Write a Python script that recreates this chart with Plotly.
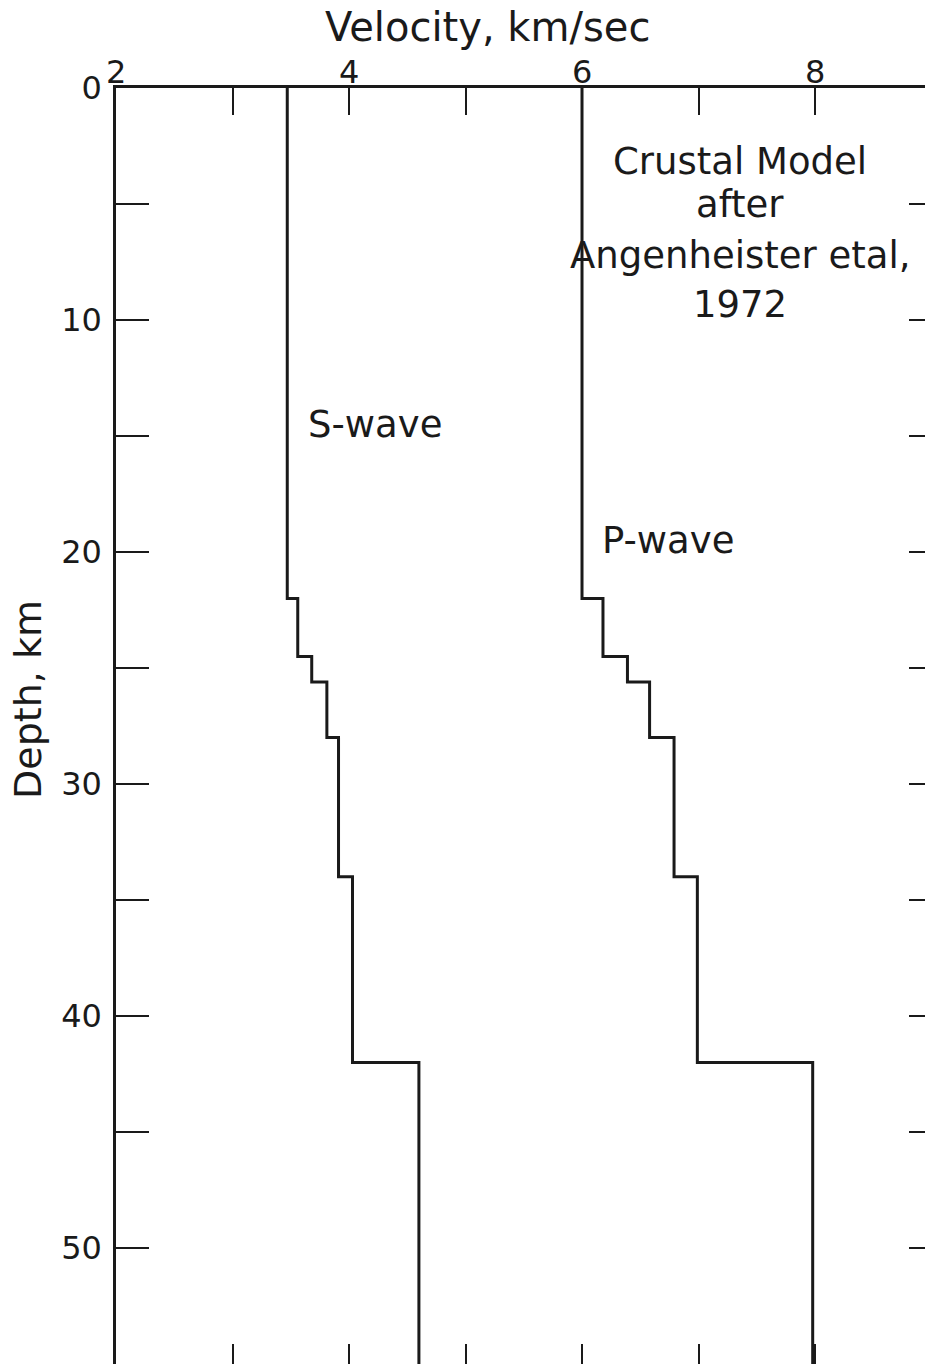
import plotly.graph_objects as go

# Layer tops (km) and velocities (km/s) of the crustal model
layer_top_km = [0, 22, 24.5, 25.6, 28, 34, 42]
model_base_km = 56
p_velocity = [6.0, 6.18, 6.39, 6.58, 6.79, 6.99, 7.98]
s_velocity = [3.47, 3.56, 3.68, 3.81, 3.91, 4.03, 4.60]

x_ticks = [2, 3, 4, 5, 6, 7, 8]
x_tick_text = ["2", "", "4", "", "6", "", "8"]
y_ticks = [0, 5, 10, 15, 20, 25, 30, 35, 40, 45, 50]
y_tick_text = ["0", "", "10", "", "20", "", "30", "", "40", "", "50"]

FONT = "DejaVu Sans"
INK = "#1a1a1a"
X_RANGE = [2, 8.944]
Y_RANGE = [55.0, 0]
PLOT_H = 1276  # plot-area height in px

depths = layer_top_km + [model_base_km]

fig = go.Figure()
for vel in (s_velocity, p_velocity):
    fig.add_trace(go.Scatter(
        x=vel + [vel[-1]], y=depths, mode="lines", line_shape="vh",
        line=dict(color=INK, width=3), showlegend=False, hoverinfo="skip",
    ))

fig.update_layout(
    width=925, height=1364,
    margin=dict(l=116, r=0, t=88, b=0),
    paper_bgcolor="white", plot_bgcolor="white",
    font=dict(family=FONT, color=INK),
    xaxis=dict(
        side="top", range=X_RANGE, tickvals=x_ticks, showticklabels=False,
        ticks="inside", ticklen=27, tickwidth=2, tickcolor=INK,
        showline=True, linewidth=2.5, linecolor=INK, showgrid=False, zeroline=False,
    ),
    xaxis2=dict(
        overlaying="x", side="bottom", anchor="y", range=X_RANGE,
        tickvals=[3, 4, 5, 6, 7, 8], ticks="inside", ticklen=20, tickwidth=2,
        tickcolor=INK, showline=False, showticklabels=False, showgrid=False,
        zeroline=False,
    ),
    yaxis=dict(
        range=Y_RANGE, tickvals=y_ticks, ticktext=y_tick_text,
        ticks="inside", ticklen=33, tickwidth=2, tickcolor=INK,
        showline=True, linewidth=2.5, linecolor=INK, showgrid=False, zeroline=False,
        tickfont=dict(size=32, family=FONT, color=INK), ticklabelstandoff=5,
    ),
    yaxis2=dict(
        overlaying="y", side="right", anchor="x", range=Y_RANGE,
        tickvals=y_ticks[1:], ticks="inside", ticklen=16, tickwidth=2,
        tickcolor=INK, showline=False, showticklabels=False, showgrid=False,
        zeroline=False,
    ),
)

# Invisible trace to keep the overlay axes active
fig.add_trace(go.Scatter(x=[X_RANGE[0]], y=[Y_RANGE[0]], xaxis="x2", yaxis="y2",
                         mode="markers", marker=dict(opacity=0), showlegend=False,
                         hoverinfo="skip"))

# Top tick labels, placed a little above the frame
for v, t in zip(x_ticks, x_tick_text):
    if t:
        fig.add_annotation(text=t, x=v, xref="x", y=1 + 16 / PLOT_H, yref="paper",
                           xanchor="center", yanchor="middle", showarrow=False,
                           font=dict(size=32, family=FONT, color=INK))

# Axis titles
fig.add_annotation(text="Velocity, km/sec", xref="paper", yref="paper",
                   x=(487 - 116) / 809, y=1 + 61 / PLOT_H,
                   xanchor="center", yanchor="middle", showarrow=False,
                   font=dict(size=40, family=FONT, color=INK))
fig.add_annotation(text="Depth, km", xref="paper", yref="paper",
                   x=-88 / 809, y=1 - (700 - 88) / PLOT_H, textangle=-90,
                   xanchor="center", yanchor="middle",
                   showarrow=False, font=dict(size=38, family=FONT, color=INK))

# Curve labels
fig.add_annotation(text="S-wave", x=4.22, y=14.5, showarrow=False,
                   xanchor="center", yanchor="middle",
                   font=dict(size=37, family=FONT, color=INK))
fig.add_annotation(text="P-wave", x=6.74, y=19.5, showarrow=False,
                   xanchor="center", yanchor="middle",
                   font=dict(size=37, family=FONT, color=INK))

# Source note
note_lines = ["Crustal Model", "after", "Angenheister etal,", "1972"]
note_depths = [3.15, 5.0, 7.2, 9.35]
for line, d in zip(note_lines, note_depths):
    fig.add_annotation(text=line, x=7.36, y=d, showarrow=False,
                       xanchor="center", yanchor="middle",
                       font=dict(size=37, family=FONT, color=INK))

fig.write_html("out.html")
